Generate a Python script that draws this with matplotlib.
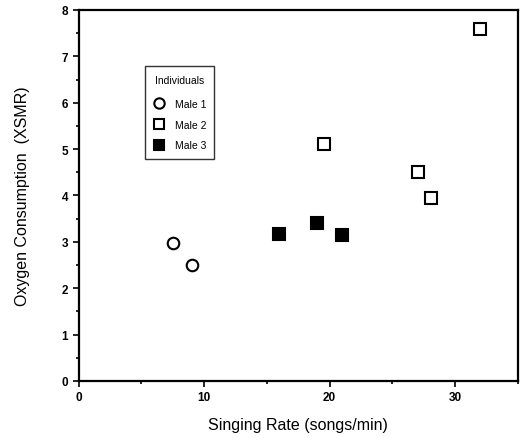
import matplotlib
matplotlib.use("Agg")
from matplotlib import pyplot as plt
from matplotlib.ticker import MultipleLocator

plt.rcParams["font.family"] = ["Liberation Sans", "DejaVu Sans"]

# singing rate (songs/min) and oxygen consumption (XSMR)
male1_rate = [7.5, 9.05]
male1_o2 = [2.97, 2.5]
male2_rate = [19.55, 27.05, 28.1, 32.0]
male2_o2 = [5.1, 4.5, 3.94, 7.6]
male3_rate = [16.0, 19.0, 21.0]
male3_o2 = [3.17, 3.41, 3.14]

fig = plt.figure(figsize=[5.21, 4.39], dpi=100)
ax = fig.add_axes([0.151, 0.130, 0.843, 0.845])

ax.plot(male1_rate, male1_o2, "o", ms=8.3, mfc="white", mec="black", mew=1.5,
        label="Male 1", clip_on=False)
ax.plot(male2_rate, male2_o2, "s", ms=8.3, mfc="white", mec="black", mew=1.5,
        label="Male 2", clip_on=False)
ax.plot(male3_rate, male3_o2, "s", ms=8.3, mfc="black", mec="black", mew=1.5,
        label="Male 3", clip_on=False)

ax.set_xlim(0, 35)
ax.set_ylim(0, 8)
ax.xaxis.set_major_locator(MultipleLocator(10))
ax.xaxis.set_minor_locator(MultipleLocator(5))
ax.yaxis.set_major_locator(MultipleLocator(1))
ax.yaxis.set_minor_locator(MultipleLocator(0.5))
ax.tick_params(which="major", direction="out", length=4, width=1.2, labelsize=8.5)
ax.tick_params(which="minor", direction="out", length=2.5, width=1.2)
for lab in ax.get_xticklabels() + ax.get_yticklabels():
    lab.set_fontweight("bold")
for s in ax.spines.values():
    s.set_linewidth(1.6)

ax.set_xlabel("Singing Rate (songs/min)", fontsize=11.5, labelpad=10)
ax.set_ylabel("Oxygen Consumption  (XSMR)", fontsize=11.5, labelpad=23)

leg = ax.legend(title="Individuals", loc="upper left", bbox_to_anchor=(0.14, 0.862),
                fontsize=7.5, title_fontsize=7.5, frameon=True, fancybox=False,
                edgecolor="black", handlelength=1.0, handletextpad=1.0,
                borderpad=0.8, labelspacing=1.05, markerscale=0.9)
leg.get_frame().set_linewidth(1.0)
leg._legend_box.align = "center"
leg._legend_box.sep = 10

fig.savefig("out.png", dpi=100)
